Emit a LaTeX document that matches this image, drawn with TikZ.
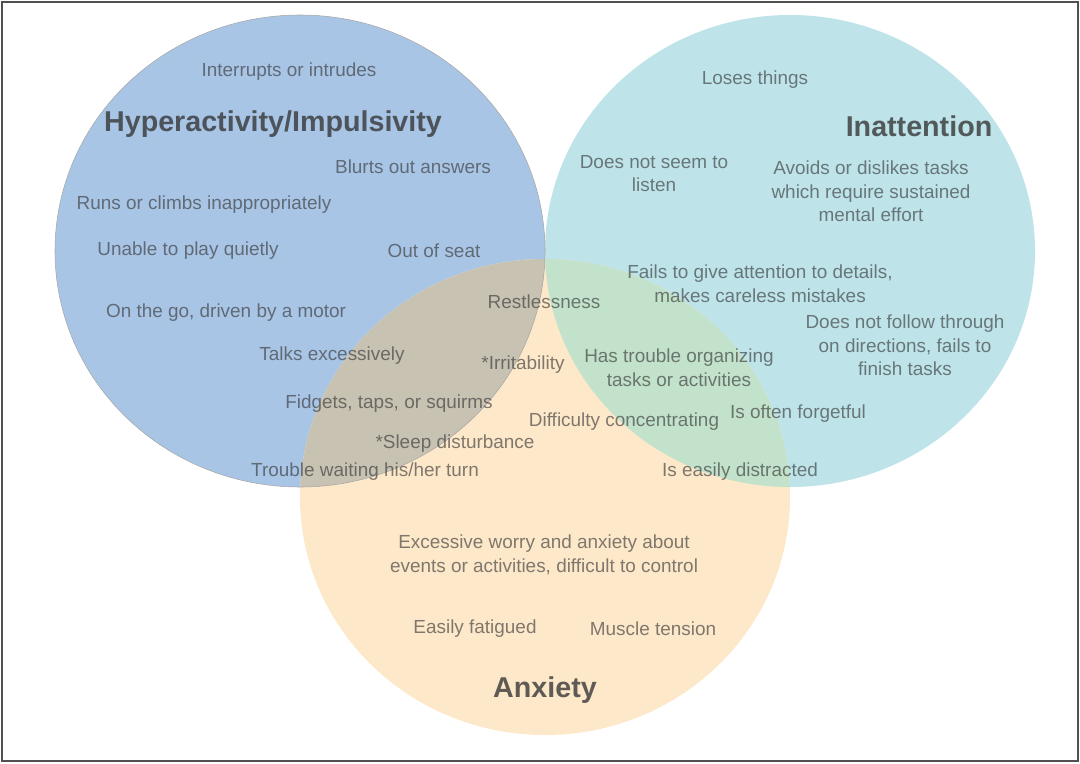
\documentclass[tikz,border=0pt]{standalone}
\usepackage{fontspec}
\setmainfont{Liberation Sans}
\definecolor{hblue}{HTML}{A9C5E5}
\definecolor{iteal}{HTML}{BEE4EA}
\definecolor{aorange}{HTML}{FDE8CA}
\definecolor{boverlap}{HTML}{C8C2B3}
\definecolor{toverlap}{HTML}{C2E2CB}
\definecolor{btoverlap}{HTML}{B9CFD8}
\definecolor{txt}{HTML}{333333}
\definecolor{framec}{HTML}{505050}
\begin{document}
\begin{tikzpicture}[x=0.75pt,y=-0.75pt,
  lbl/.style={text=txt, text opacity=0.62, font=\fontsize{14.2}{17.6}\selectfont, align=center, inner sep=0pt, yshift=-2pt},
  ttl/.style={text=txt, text opacity=0.78, font=\bfseries\fontsize{21.5}{26}\selectfont, align=center, inner sep=0pt, yshift=-1.5pt},
  edge/.style={draw=black!35, line width=0.4pt}]
\useasboundingbox (0,0) rectangle (1080,763);
\draw[framec, line width=1.5pt] (2,2) rectangle (1078,761);
% circles
\coordinate (cH) at (300,251);
\coordinate (cI) at (790,251);
\coordinate (cA) at (545,497);
\fill[hblue] (cH) ellipse [x radius=245, y radius=236];
\fill[iteal] (cI) ellipse [x radius=245, y radius=236];
\begin{scope}
  \clip (cH) ellipse [x radius=245, y radius=236];
  \fill[btoverlap] (cI) ellipse [x radius=245, y radius=236];
\end{scope}
\fill[aorange] (cA) ellipse [x radius=245, y radius=238];
\begin{scope}
  \clip (cA) ellipse [x radius=245, y radius=238];
  \fill[boverlap] (cH) ellipse [x radius=245, y radius=236];
  \fill[toverlap] (cI) ellipse [x radius=245, y radius=236];
\end{scope}
\draw[edge] (cH) ellipse [x radius=245, y radius=236];
% Hyperactivity
\node[lbl] (h1) at (289,69) {Interrupts or intrudes};
\node[ttl] (tH) at (273,122) {Hyperactivity/Impulsivity};
\node[lbl] (h2) at (413,164) {Blurts out answers};
\node[lbl] (h3) at (204,202) {Runs or climbs inappropriately};
\node[lbl] (h4) at (188,248) {Unable to play quietly};
\node[lbl] (h5) at (434,248) {Out of seat};
\node[lbl] (h6) at (226,310) {On the go, driven by a motor};
\node[lbl] (h7) at (332,353) {Talks excessively};
\node[lbl] (h8) at (389,401) {Fidgets, taps, or squirms};
\node[lbl] (h9) at (365,469) {Trouble waiting his/her turn};
% shared
\node[lbl] (s1) at (544,299) {Restlessness};
\node[lbl] (s2) at (523,362) {*Irritability};
\node[lbl] (s3) at (455,441) {*Sleep disturbance};
\node[lbl] (s4) at (624,419) {Difficulty concentrating};
% Inattention
\node[lbl] (i1) at (755,77) {Loses things};
\node[ttl] (tI) at (919,124) {Inattention};
\node[lbl] (i2) at (654,171) {Does not seem to\\listen};
\node[lbl] (i3) at (871,189) {Avoids or dislikes tasks\\which require sustained\\mental effort};
\node[lbl] (i4) at (760,281) {Fails to give attention to details,\\makes careless mistakes};
\node[lbl] (i5) at (905,343) {Does not follow through\\on directions, fails to\\finish tasks};
\node[lbl] (i6) at (679,365) {Has trouble organizing\\tasks or activities};
\node[lbl] (i7) at (798,411) {Is often forgetful};
\node[lbl] (i8) at (740,469) {Is easily distracted};
% Anxiety
\node[lbl] (a1) at (544,552) {Excessive worry and anxiety about\\events or activities, difficult to control};
\node[lbl] (a2) at (475,626) {Easily fatigued};
\node[lbl] (a3) at (653,626) {Muscle tension};
\node[ttl] (tA) at (545,688) {Anxiety};
\end{tikzpicture}
\end{document}
